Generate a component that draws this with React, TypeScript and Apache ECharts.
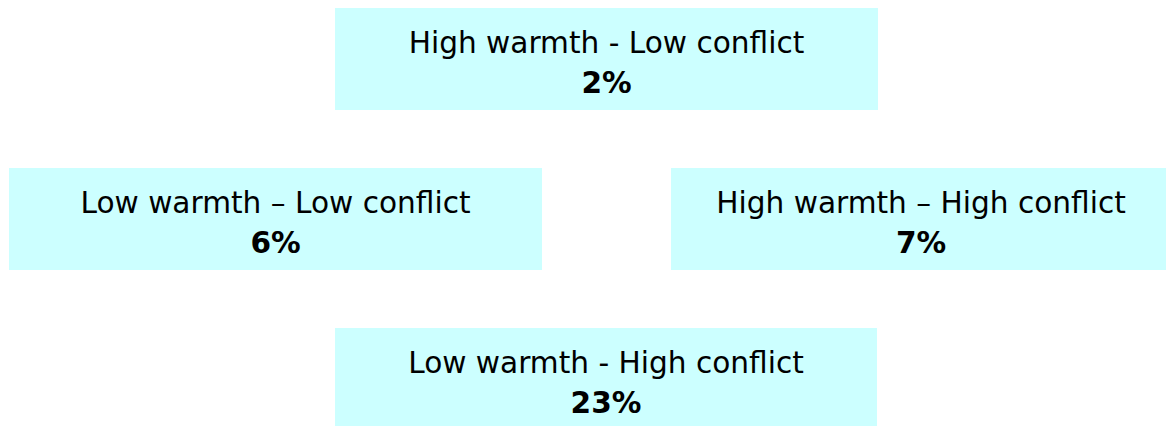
import React, { useEffect, useRef } from "react";
import * as echarts from "echarts";

const categories = [
  "High warmth - Low conflict",
  "Low warmth \u2013 Low conflict",
  "High warmth \u2013 High conflict",
  "Low warmth - High conflict",
];
const values = ["2%", "6%", "7%", "23%"];

// layout of each box: [left, top, width, height]
const boxes: number[][] = [
  [335, 8, 543, 102],
  [9, 168, 533, 102],
  [671, 168, 500, 102],
  [335, 328, 542, 102],
];

const FILL = "#CCFFFF";
const FONT = "Verdana, 'DejaVu Sans', sans-serif";

export default function App() {
  const ref = useRef<HTMLDivElement>(null);
  useEffect(() => {
    document.body.style.margin = "0";
    const chart = echarts.init(ref.current!, null, { renderer: "svg" });
    const elements: any[] = [];
    categories.forEach((cat, i) => {
      const [x, y, w, h] = boxes[i];
      elements.push({
        type: "rect",
        shape: { x, y, width: w, height: h },
        style: { fill: FILL },
        silent: true,
      });
      elements.push({
        type: "text",
        x: x + w / 2,
        y: y + 35,
        style: {
          text: cat,
          fill: "#000",
          font: `29.6px ${FONT}`,
          align: "center",
          verticalAlign: "middle",
        },
      });
      elements.push({
        type: "text",
        x: x + w / 2,
        y: y + 75,
        style: {
          text: values[i],
          fill: "#000",
          font: `bold 29.6px ${FONT}`,
          align: "center",
          verticalAlign: "middle",
        },
      });
    });
    chart.setOption({
      animation: false,
      backgroundColor: "#fff",
      graphic: { elements },
    });
    return () => chart.dispose();
  }, []);
  return <div ref={ref} style={{ width: 1166, height: 426 }} />;
}
